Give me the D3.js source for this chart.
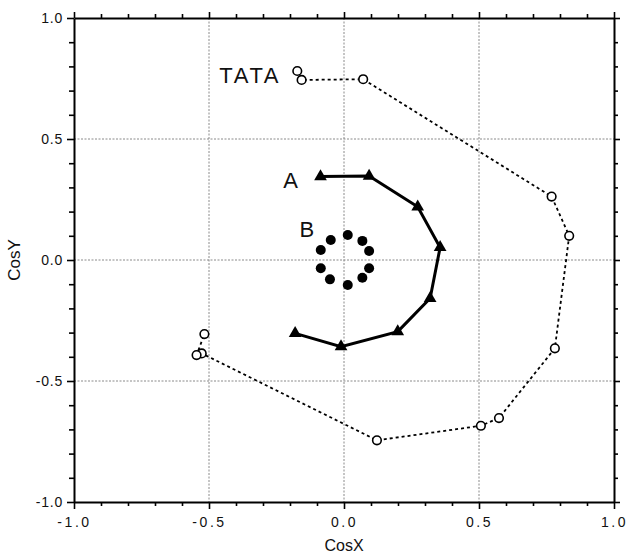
<!DOCTYPE html>
<html>
<head>
<meta charset="utf-8">
<script src="https://cdn.jsdelivr.net/npm/d3@7"></script>
<style>
  html, body { margin: 0; padding: 0; background: #fff; }
  svg { display: block; }
  text { font-family: "Liberation Sans", Arial, Helvetica, sans-serif; fill: #111; }
</style>
</head>
<body>
<svg id="chart" width="627" height="553"></svg>
<script>
// Series: direction cosines (CosX, CosY)
const tataX = [-0.173, -0.157, 0.071, 0.769, 0.834, 0.781, 0.574, 0.507, 0.122, -0.527, -0.546, -0.517];
const tataY = [0.781, 0.744, 0.747, 0.262, 0.100, -0.365, -0.653, -0.685, -0.745, -0.386, -0.393, -0.306];

const aX = [-0.087, 0.093, 0.273, 0.356, 0.319, 0.199, -0.011, -0.181];
const aY = [0.345, 0.347, 0.220, 0.052, -0.158, -0.296, -0.358, -0.303];

const bX = [0.014, 0.068, 0.093, 0.093, 0.068, 0.014, -0.052, -0.086, -0.086, -0.049];
const bY = [0.103, 0.079, 0.037, -0.034, -0.073, -0.103, -0.080, -0.034, 0.041, 0.083];

// Series labels and their anchor points (text end, baseline)
const labelText = ["TATA", "A", "B"];
const labelX = [-0.233, -0.167, -0.107];
const labelY = [0.730, 0.296, 0.094];
const labelSpacing = [2.6, 1, 1];

// Axis ticks
const majorTicks = [-1.0, -0.5, 0.0, 0.5, 1.0];
const minorTicks = [-0.9, -0.8, -0.7, -0.6, -0.4, -0.3, -0.2, -0.1, 0.1, 0.2, 0.3, 0.4, 0.6, 0.7, 0.8, 0.9];
const gridTicks = [-0.5, 0.0, 0.5];
const xTitle = "CosX";
const yTitle = "CosY";

const svg = d3.select("#chart");
const x = d3.scaleLinear().domain([-1, 1]).range([74, 614]);
const y = d3.scaleLinear().domain([-1, 1]).range([502, 18]);
// plain ASCII hyphen for negative tick values
const locale = d3.formatLocale({ decimal: ".", thousands: ",", grouping: [3], currency: ["", ""], minus: "-" });
const fmt = locale.format(".1f");

// Grid lines
const grid = svg.append("g")
  .attr("stroke", "#7d7d7d").attr("stroke-width", 0.9).attr("stroke-dasharray", "2,1.5");
grid.selectAll(".gx").data(gridTicks).join("line")
  .attr("x1", d => x(d)).attr("x2", d => x(d)).attr("y1", y(1)).attr("y2", y(-1));
grid.selectAll(".gy").data(gridTicks).join("line")
  .attr("y1", d => y(d)).attr("y2", d => y(d)).attr("x1", x(-1)).attr("x2", x(1));

// Axes (ticks outward on all four sides)
function styleAxis(g) {
  g.select(".domain").attr("stroke", "#000").attr("stroke-width", 2);
  g.selectAll(".tick line").attr("stroke", "#000").attr("stroke-width", 1.6);
}
function minorStyle(g) {
  g.select(".domain").remove();
  g.selectAll(".tick line").attr("stroke", "#000").attr("stroke-width", 1.6);
}
const bottomAxis = svg.append("g").attr("transform", `translate(0,${y(-1)})`)
  .call(d3.axisBottom(x).tickValues(majorTicks).tickSize(7).tickSizeOuter(0).tickFormat(fmt).tickPadding(8));
bottomAxis.selectAll(".tick text").attr("font-size", 14).attr("letter-spacing", 2.6).attr("fill", "#111");
styleAxis(bottomAxis);
svg.append("g").attr("transform", `translate(0,${y(-1)})`)
  .call(d3.axisBottom(x).tickValues(minorTicks).tickSize(4).tickFormat("")).call(minorStyle);

const leftAxis = svg.append("g").attr("transform", `translate(${x(-1)},0)`)
  .call(d3.axisLeft(y).tickValues(majorTicks).tickSize(7).tickSizeOuter(0).tickFormat(fmt).tickPadding(4));
leftAxis.selectAll(".tick text").attr("font-size", 14).attr("letter-spacing", 0.8).attr("fill", "#111");
styleAxis(leftAxis);
svg.append("g").attr("transform", `translate(${x(-1)},0)`)
  .call(d3.axisLeft(y).tickValues(minorTicks).tickSize(5).tickFormat("")).call(minorStyle);

const topAxis = svg.append("g").attr("transform", `translate(0,${y(1)})`)
  .call(d3.axisTop(x).tickValues(majorTicks).tickSize(6).tickSizeOuter(0).tickFormat(""));
styleAxis(topAxis);
svg.append("g").attr("transform", `translate(0,${y(1)})`)
  .call(d3.axisTop(x).tickValues(minorTicks).tickSize(4).tickFormat("")).call(minorStyle);

const rightAxis = svg.append("g").attr("transform", `translate(${x(1)},0)`)
  .call(d3.axisRight(y).tickValues(majorTicks).tickSize(6).tickSizeOuter(0).tickFormat(""));
styleAxis(rightAxis);
svg.append("g").attr("transform", `translate(${x(1)},0)`)
  .call(d3.axisRight(y).tickValues(minorTicks).tickSize(4).tickFormat("")).call(minorStyle);

// Axis titles
svg.append("text").attr("x", x(0)).attr("y", 551)
  .attr("text-anchor", "middle").attr("font-size", 16).text(xTitle);
svg.append("text").attr("transform", `translate(20,${y(0)}) rotate(-90)`)
  .attr("text-anchor", "middle").attr("font-size", 17).text(yTitle);

// TATA: dotted path with open circles
const tata = tataX.map((v, i) => [v, tataY[i]]);
const line = d3.line().x(d => x(d[0])).y(d => y(d[1]));
svg.append("path").datum(tata).attr("d", line)
  .attr("fill", "none").attr("stroke", "#000").attr("stroke-width", 1.8).attr("stroke-dasharray", "3,3");
svg.append("g").selectAll("circle").data(tata).join("circle")
  .attr("cx", d => x(d[0])).attr("cy", d => y(d[1])).attr("r", 4.3)
  .attr("fill", "#fff").attr("stroke", "#000").attr("stroke-width", 1.6);

// A: solid path with filled triangles
const aPts = aX.map((v, i) => [v, aY[i]]);
svg.append("path").datum(aPts).attr("d", line)
  .attr("fill", "none").attr("stroke", "#000").attr("stroke-width", 3);
svg.append("g").selectAll("path").data(aPts).join("path")
  .attr("transform", d => `translate(${x(d[0])},${y(d[1])})`)
  .attr("d", d3.symbol(d3.symbolTriangle, 70)).attr("fill", "#000");

// B: filled dots
const bPts = bX.map((v, i) => [v, bY[i]]);
svg.append("g").selectAll("circle").data(bPts).join("circle")
  .attr("cx", d => x(d[0])).attr("cy", d => y(d[1])).attr("r", 5).attr("fill", "#000");

// Series labels
svg.append("g").selectAll("text").data(labelText).join("text")
  .attr("x", (d, i) => x(labelX[i])).attr("y", (d, i) => y(labelY[i]))
  .attr("text-anchor", "end").attr("font-size", 22).attr("letter-spacing", (d, i) => labelSpacing[i])
  .text(d => d);
</script>
</body>
</html>
